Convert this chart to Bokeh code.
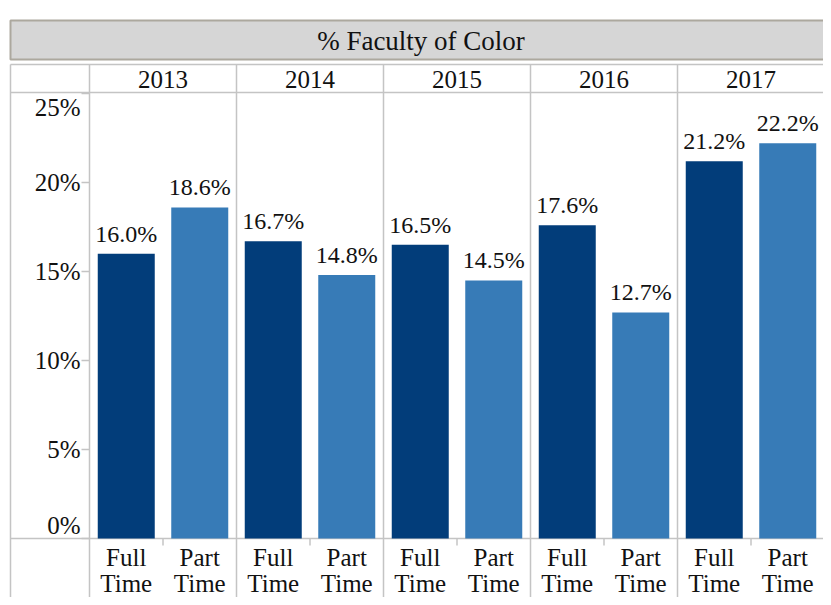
from bokeh.plotting import figure
from bokeh.models import Range1d, ColumnDataSource
from bokeh.core.properties import value
from bokeh.embed import file_html
from bokeh.resources import INLINE

# ---- data ----
years = ["2013", "2014", "2015", "2016", "2017"]
full_time = [16.0, 16.7, 16.5, 17.6, 21.2]
part_time = [18.6, 14.8, 14.5, 12.7, 22.2]
categories = ["Full Time", "Part Time"]
y_ticks = [0, 5, 10, 15, 20, 25]
y_tick_labels = ["0%", "5%", "10%", "15%", "20%", "25%"]
title = "% Faculty of Color"

# ---- layout helpers (canvas pixels -> data) ----
W, H = 823, 597
X0, XS = 89.0, 147.0   # canvas px of x=0, px per pane
Y0, YS = 538.0, 17.8   # canvas px of y=0, px per percent


def px(x):
    return (x - X0) / XS


def py(y):
    return (Y0 - y) / YS


FONT = value("Liberation Serif")
DARK = "#023d7a"
LIGHT = "#377bb7"
GRID = "#c4c4c4"
TXT = "#111111"

p = figure(width=W, height=H, output_backend="svg", toolbar_location=None,
           x_range=Range1d(px(0), px(W)), y_range=Range1d(py(H), py(0)),
           min_border=0, outline_line_color=None)
p.axis.visible = False
p.grid.visible = False
p.background_fill_color = "white"
p.border_fill_color = "white"

n = len(years)
right_px = W + 10

# title band
p.quad(left=[px(10)], right=[px(right_px)], top=[py(20)], bottom=[py(59)],
       fill_color="#d6d6d6", line_color="#aca89e", line_width=2)
p.text(x=[px((10 + 831) / 2)], y=[py(40)], text=[title], text_font=FONT,
       text_font_size=value("27px"), text_align="center", text_baseline="middle",
       text_color=TXT)

# horizontal table lines
h_lines = [64, 92, 538]
p.segment(x0=[px(10)] * 3, x1=[px(right_px)] * 3, y0=[py(v) for v in h_lines],
          y1=[py(v) for v in h_lines], line_color=GRID, line_width=1.5)

# vertical table lines: left border, left column divider, pane dividers
xs_v = [px(10)] + [i for i in range(n)]
p.segment(x0=xs_v, x1=xs_v, y0=[py(64)] * len(xs_v), y1=[py(H + 5)] * len(xs_v),
          line_color=GRID, line_width=1.5)

# small ticks between categories on bottom axis
mids = [i + 0.5 for i in range(n)]
p.segment(x0=mids, x1=mids, y0=[0] * n, y1=[py(545)] * n, line_color=GRID, line_width=1.5)

# y ticks
p.segment(x0=[px(81)] * len(y_ticks), x1=[0] * len(y_ticks), y0=y_ticks, y1=y_ticks,
          line_color=GRID, line_width=1.5)

# y tick labels (end labels kept inside like Tableau)
TFS = value("25px")
mid_t = [t for t in y_ticks if t not in (0, 25)]
mid_l = [l for t, l in zip(y_ticks, y_tick_labels) if t not in (0, 25)]
p.text(x=[px(80)] * len(mid_t), y=mid_t, text=mid_l, text_font=FONT,
       text_font_size=TFS, text_align="right", text_baseline="middle", text_color=TXT)
p.text(x=[px(80)], y=[y_ticks[-1]], text=[y_tick_labels[-1]], text_font=FONT,
       text_font_size=TFS, text_align="right", text_baseline="top", text_color=TXT)
p.text(x=[px(80)], y=[y_ticks[0]], text=[y_tick_labels[0]], text_font=FONT,
       text_font_size=TFS, text_align="right", text_baseline="bottom", text_color=TXT)

# year headers
p.text(x=[i + 0.5 for i in range(n)], y=[py(79)] * n, text=years, text_font=FONT,
       text_font_size=value("25px"), text_align="center", text_baseline="middle",
       text_color=TXT)

# bars
bw = 57 / XS
src_f = ColumnDataSource(dict(x=[i + 0.25 for i in range(n)], top=full_time,
                              lab=["%.1f%%" % v for v in full_time]))
src_p = ColumnDataSource(dict(x=[i + 0.75 for i in range(n)], top=part_time,
                              lab=["%.1f%%" % v for v in part_time]))
p.vbar(x="x", top="top", bottom=0, width=bw, source=src_f, fill_color=DARK, line_color=None)
p.vbar(x="x", top="top", bottom=0, width=bw, source=src_p, fill_color=LIGHT, line_color=None)

for src in (src_f, src_p):
    p.text(x="x", y="top", text="lab", source=src, text_font=FONT,
           text_font_size=value("24px"), text_align="center", text_baseline="middle",
           y_offset=-20, text_color=TXT)

# category labels (two lines)
cat_x = []
line1 = []
line2 = []
for i in range(n):
    for j, c in enumerate(categories):
        a, b = c.split(" ")
        cat_x.append(i + 0.25 + 0.5 * j)
        line1.append(a)
        line2.append(b)
p.text(x=cat_x, y=[py(557)] * len(cat_x), text=line1, text_font=FONT,
       text_font_size=value("25px"), text_align="center", text_baseline="middle",
       text_color=TXT)
p.text(x=cat_x, y=[py(583)] * len(cat_x), text=line2, text_font=FONT,
       text_font_size=value("25px"), text_align="center", text_baseline="middle",
       text_color=TXT)

open("out.html", "w").write(file_html(p, INLINE))
